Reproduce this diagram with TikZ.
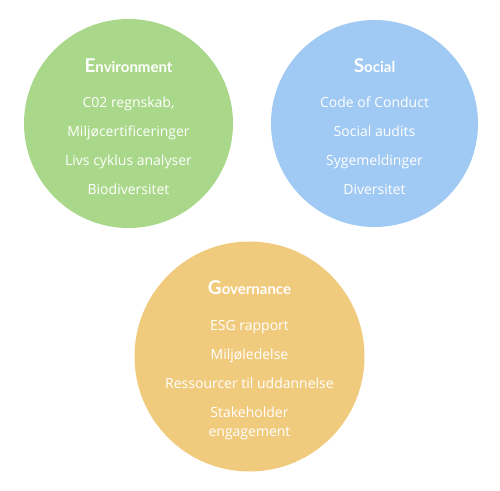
\documentclass[tikz,border=0pt]{standalone}
\usepackage{fontspec}
\setmainfont{Open Sans}
\newfontfamily\titlefont{Lato}
\definecolor{envgreen}{RGB}{170,216,138}
\definecolor{socblue}{RGB}{160,202,243}
\definecolor{govorange}{RGB}{241,203,125}
\begin{document}
\begin{tikzpicture}[x=1pt,y=-1pt,
  bubble/.style={circle,draw=none,inner sep=0pt},
  ttl/.style={text=white,font=\titlefont\bfseries\fontsize{15}{16}\selectfont,inner sep=0pt,anchor=base},
  itm/.style={text=white,font=\fontsize{14}{15}\selectfont,inner sep=0pt,anchor=base,align=center}]
\useasboundingbox (0,0) rectangle (500,490);
\node[bubble,fill=envgreen,minimum size=209pt] (env) at (128.5,123.5) {};
\node[bubble,fill=socblue,minimum size=207pt] (soc) at (374.5,123.5) {};
\node[bubble,fill=govorange,minimum size=230pt] (gov) at (249.5,356.5) {};
% Environment
\node[ttl] (envt) at (128.5,72) {{\fontsize{19}{20}\selectfont E}nvironment};
\node[itm] (e1) at (128.5,107.5) {C02 regnskab,};
\node[itm] (e2) at (128.5,136) {Miljøcertificeringer};
\node[itm] (e3) at (128.5,165) {Livs cyklus analyser};
\node[itm] (e4) at (128.5,194) {Biodiversitet};
% Social
\node[ttl] (soct) at (374.5,72) {{\fontsize{19}{20}\selectfont S}ocial};
\node[itm] (s1) at (374.5,107.5) {Code of Conduct};
\node[itm] (s2) at (374.5,136) {Social audits};
\node[itm] (s3) at (374.5,165) {Sygemeldinger};
\node[itm] (s4) at (374.5,194) {Diversitet};
% Governance
\node[ttl] (govt) at (249.5,294) {{\fontsize{19}{20}\selectfont G}overnance};
\node[itm] (g1) at (249.5,330.5) {ESG rapport};
\node[itm] (g2) at (249.5,359) {Miljøledelse};
\node[itm] (g3) at (249.5,388.5) {Ressourcer til uddannelse};
\node[itm] (g4) at (249.5,417.5) {Stakeholder};
\node[itm] (g5) at (249.5,436) {engagement};
\end{tikzpicture}
\end{document}
